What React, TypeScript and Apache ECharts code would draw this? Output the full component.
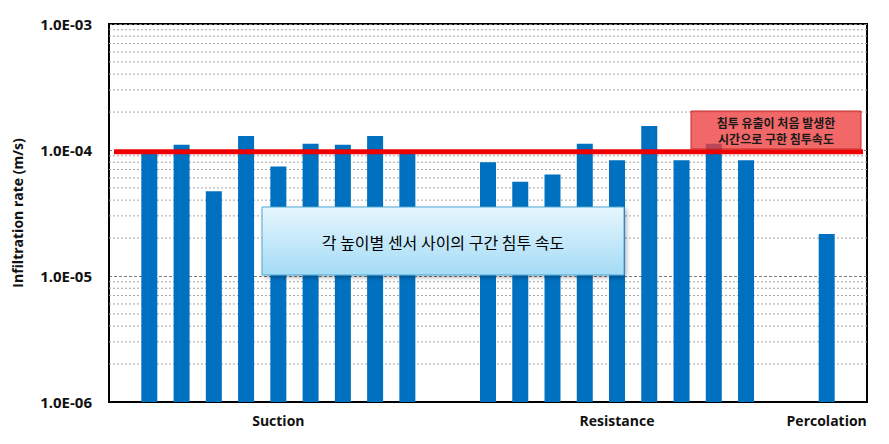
import React, { useEffect, useRef } from 'react';
import * as echarts from 'echarts';

// ---- data ----
const groupLabels = ['Suction', 'Resistance', 'Percolation'];
const suctionValues = [9.6e-5, 1.1e-4, 4.7e-5, 1.29e-4, 7.4e-5, 1.12e-4, 1.1e-4, 1.29e-4, 9.6e-5];
const resistanceValues = [8.0e-5, 5.6e-5, 6.4e-5, 1.12e-4, 8.3e-5, 1.55e-4, 8.3e-5, 1.12e-4, 8.3e-5];
const percolationValues = [2.15e-5];
const thresholdRate = 9.7e-5;
const yTickLabels = ['1.0E-06', '1.0E-05', '1.0E-04', '1.0E-03'];
const yAxisTitle = 'Infiltration rate (m/s)';
const boxNote = '각 높이별 센서 사이의 구간 침투 속도';
const thresholdNote = ['침투 유출이 처음 발생한', '시간으로 구한 침투속도'];

// ---- axis range ----
const Y_MIN = 1e-6;
const Y_MAX = 1e-3;

// ---- layout (slots on the category axis) ----
const SLOT_COUNT = 47;
const GROUP_START = [2, 23, 44];
const SLOT_STEP = 2;

const groups = [suctionValues, resistanceValues, percolationValues];
const categories: string[] = new Array(SLOT_COUNT).fill('');
const barData: (number | null)[] = new Array(SLOT_COUNT).fill(null);
groups.forEach((vals, g) => {
  vals.forEach((v, i) => {
    barData[GROUP_START[g] + i * SLOT_STEP] = v;
  });
  const mid = GROUP_START[g] + Math.floor((vals.length - 1) / 2) * SLOT_STEP;
  categories[mid] = groupLabels[g];
});
// bars on a log axis: stack the value on a transparent base at the axis minimum
const baseData = barData.map((v) => (v == null ? null : Y_MIN));
const topData = barData.map((v) => (v == null ? null : v - Y_MIN));

const minorGrid: number[][] = [];
for (let e = -6; e < -3; e++) {
  for (let m = 2; m <= 9; m++) minorGrid.push([0, m * Math.pow(10, e)]);
}

const LATIN = '"Open Sans", "Noto Sans CJK KR", sans-serif';
const KR = '"Noto Sans CJK KR", sans-serif';

function hLine(stroke: string, width: number, dash: number[] | null, inset: [number, number]) {
  return (params: any, api: any) => {
    const y = api.coord([0, api.value(1)])[1];
    const cs = params.coordSys;
    return {
      type: 'line',
      shape: { x1: cs.x + inset[0], y1: y, x2: cs.x + cs.width - inset[1], y2: y },
      style: { stroke, lineWidth: width, lineDash: dash || undefined, fill: null },
      silent: true,
    };
  };
}

export default function App() {
  const ref = useRef<HTMLDivElement>(null);
  useEffect(() => {
    if (!ref.current) return;
    const chart = echarts.init(ref.current, null, { renderer: 'svg' });
    chart.setOption({
      animation: false,
      grid: {
        left: 109, right: 22, top: 24, bottom: 42,
        show: true, borderColor: '#000', borderWidth: 2,
        outerBoundsMode: 'none',
      },
      xAxis: {
        type: 'category',
        data: categories,
        axisTick: { show: false },
        axisLine: { lineStyle: { color: '#000', width: 2 } },
        axisLabel: {
          interval: 0, color: '#111', fontWeight: 'bold', fontSize: 14,
          fontFamily: LATIN, margin: 11,
        },
        splitLine: { show: false },
      },
      yAxis: {
        type: 'log',
        logBase: 10,
        min: Y_MIN,
        max: Y_MAX,
        name: yAxisTitle,
        nameLocation: 'middle',
        nameGap: 85,
        nameTextStyle: { fontSize: 14, fontWeight: 'bold', color: '#111', fontFamily: LATIN },
        axisLine: { show: true, lineStyle: { color: '#000', width: 2 } },
        axisTick: { show: false },
        axisLabel: {
          formatter: (v: number) => yTickLabels[Math.round(Math.log10(v)) + 6] ?? '',
          fontSize: 15, fontWeight: 'bold', color: '#111', fontFamily: LATIN, margin: 17,
        },
        splitLine: { show: true, lineStyle: { color: '#7a7a7a', type: [3, 2], width: 1 } },
        minorTick: { show: false },
        minorSplitLine: { show: false },
      },
      series: [
        {
          type: 'custom',
          data: minorGrid,
          encode: { x: 0, y: 1 },
          z: 1,
          silent: true,
          clip: false,
          renderItem: hLine('#a5a5a5', 1, [2, 2], [0, 0]),
        },
        {
          type: 'bar',
          stack: 'rate',
          data: baseData,
          barWidth: 16,
          silent: true,
          itemStyle: { color: 'rgba(0,0,0,0)' },
          z: 2,
        },
        {
          type: 'bar',
          stack: 'rate',
          data: topData,
          barWidth: 16,
          itemStyle: { color: '#0070C0' },
          z: 2,
        },
        {
          type: 'custom',
          data: [[0, thresholdRate]],
          encode: { x: 0, y: 1 },
          z: 5,
          silent: true,
          clip: false,
          renderItem: hLine('#ee0000', 5, null, [5, 4]),
        },
      ],
      graphic: [
        {
          type: 'rect',
          z: 100,
          shape: { x: 262, y: 207, width: 362, height: 68 },
          style: {
            fill: new echarts.graphic.LinearGradient(0, 0, 0, 1, [
              { offset: 0, color: '#e6f6fd' },
              { offset: 1, color: '#a4dbf6' },
            ]),
            stroke: '#4fa9d6',
            lineWidth: 1,
            shadowBlur: 4,
            shadowColor: 'rgba(0,0,0,0.3)',
            shadowOffsetX: 2,
            shadowOffsetY: 2,
          },
        },
        {
          type: 'text',
          z: 101,
          x: 443,
          y: 242,
          style: {
            text: boxNote,
            fill: '#000',
            font: '16px ' + KR,
            align: 'center',
            verticalAlign: 'middle',
          },
        },
        {
          type: 'rect',
          z: 100,
          shape: { x: 691, y: 111, width: 170, height: 38 },
          style: {
            fill: 'rgba(238,60,60,0.78)',
            stroke: '#c62828',
            lineWidth: 1,
          },
        },
        {
          type: 'text',
          z: 101,
          x: 776,
          y: 122,
          style: {
            text: thresholdNote[0],
            fill: '#1a1a1a',
            font: 'bold 12px ' + KR,
            lineHeight: 13,
            align: 'center',
            verticalAlign: 'middle',
          },
        },
        {
          type: 'text',
          z: 101,
          x: 776,
          y: 138,
          style: {
            text: thresholdNote[1],
            fill: '#1a1a1a',
            font: 'bold 12px ' + KR,
            lineHeight: 13,
            align: 'center',
            verticalAlign: 'middle',
          },
        },
      ],
    });
    return () => chart.dispose();
  }, []);
  return (
    <div
      ref={ref}
      style={{ position: 'absolute', left: 0, top: 0, width: 889, height: 444, background: '#fff' }}
    />
  );
}
